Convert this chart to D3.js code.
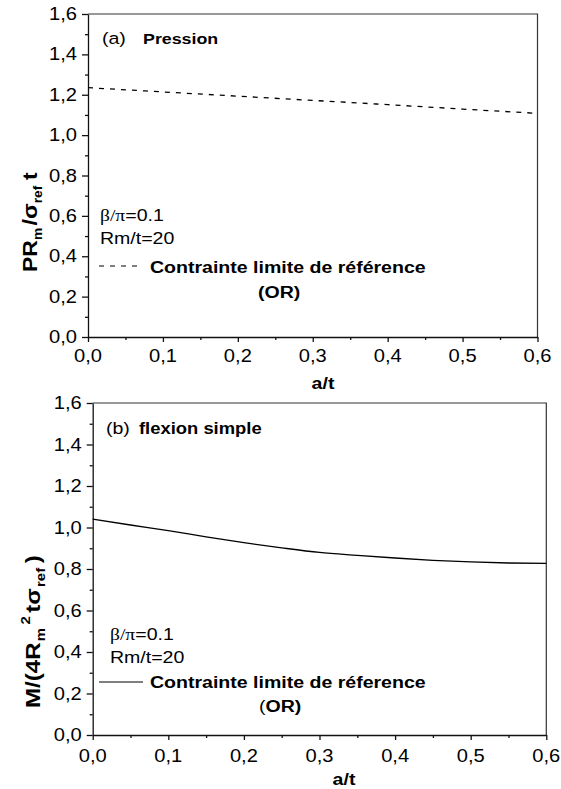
<!DOCTYPE html>
<html>
<head>
<meta charset="utf-8">
<script src="https://cdn.jsdelivr.net/npm/d3@7"></script>
<style>
  body { margin: 0; background: #fff; }
  svg text { font-family: "Liberation Sans", Arial, sans-serif; fill: #000; }
</style>
</head>
<body>
<script>
// values
var xMajor = [0, 0.1, 0.2, 0.3, 0.4, 0.5, 0.6],
    xMinor = [0.05, 0.15, 0.25, 0.35, 0.45, 0.55],
    yMajor = [0, 0.2, 0.4, 0.6, 0.8, 1.0, 1.2, 1.4, 1.6],
    yMinor = [0.1, 0.3, 0.5, 0.7, 0.9, 1.1, 1.3, 1.5];

// (a) pression
var aPress = [0, 0.1, 0.2, 0.3, 0.4, 0.5, 0.6],
    limPress = [1.235, 1.214, 1.193, 1.172, 1.151, 1.129, 1.108];

// (b) flexion simple
var aFlex = [0, 0.05, 0.1, 0.15, 0.2, 0.25, 0.3, 0.35, 0.4, 0.45, 0.5, 0.55, 0.6],
    limFlex = [1.040, 1.012, 0.985, 0.955, 0.927, 0.902, 0.880, 0.866, 0.853, 0.842, 0.834, 0.829, 0.827];

var width = 561,
    height = 789,
    sx = 1.15; // glyphs in the figure are a bit wider than Arial

var svg = d3.select("body").append("svg")
    .attr("width", width)
    .attr("height", height);

var fmt = function(d) { return d.toFixed(1).replace(".", ","); };

function txt(g, x, y, size, weight, anchor) {
  return g.append("text")
      .attr("transform", "translate(" + x + "," + y + ") scale(" + sx + ",1)")
      .attr("font-size", size)
      .attr("font-weight", weight || "normal")
      .attr("text-anchor", anchor || "start");
}

function panel(p) {
  var x = d3.scaleLinear().domain([0, 0.6]).range([p.left, p.right]),
      y = d3.scaleLinear().domain([0, 1.6]).range([p.bottom, p.top]);

  var g = svg.append("g");

  // frame
  g.append("path")
      .attr("d", "M" + p.left + "," + p.top + "H" + p.right + "V" + p.bottom)
      .attr("fill", "none")
      .attr("stroke", "#333")
      .attr("stroke-width", 1.2);

  var xa = g.append("g").attr("transform", "translate(0," + p.bottom + ")");
  xa.call(d3.axisBottom(x).tickValues(xMajor).tickSize(5).tickSizeOuter(0).tickFormat(""));
  xa.append("g").call(d3.axisBottom(x).tickValues(xMinor).tickSize(3).tickSizeOuter(0).tickFormat(""))
      .select(".domain").remove();

  var ya = g.append("g").attr("transform", "translate(" + p.left + ",0)");
  ya.call(d3.axisLeft(y).tickValues(yMajor).tickSize(6).tickSizeOuter(0).tickFormat(""));
  ya.append("g").call(d3.axisLeft(y).tickValues(yMinor).tickSize(3).tickSizeOuter(0).tickFormat(""))
      .select(".domain").remove();

  g.selectAll(".domain, .tick line").attr("stroke", "#111").attr("stroke-width", 1.3);

  xMajor.forEach(function(d) {
    txt(g, x(d), p.bottom + p.xLabDy, 17.5, "normal", "middle").text(fmt(d));
  });
  yMajor.forEach(function(d) {
    txt(g, p.left - 11, y(d) + 6, 17.5, "normal", "end").text(fmt(d));
  });

  // x title
  txt(g, p.xTitleX, p.xTitleY, 17, "bold", "middle").text("a/t");

  // curve
  var line = d3.line()
      .x(function(d) { return x(d[0]); })
      .y(function(d) { return y(d[1]); })
      .curve(d3.curveMonotoneX);

  g.append("path")
      .datum(d3.zip(p.xs, p.ys))
      .attr("d", line)
      .attr("fill", "none")
      .attr("stroke", "#000")
      .attr("stroke-width", 1.3)
      .attr("stroke-dasharray", p.dash);

  return g;
}

// ---------- (a) ----------
var ga = panel({
  left: 88, right: 537.5, top: 14, bottom: 337,
  xs: aPress, ys: limPress, dash: "5,6",
  xLabDy: 25, xTitleX: 323, xTitleY: 389
});

txt(ga, 102, 44, 17).text("(a)");
txt(ga, 143, 44, 15.5, "bold").text("Pression");

var ba = txt(ga, 100, 221, 17);
ba.append("tspan").attr("font-family", "'Liberation Serif', serif").text("β/π");
ba.append("tspan").text("=0.1");
txt(ga, 100, 244, 17).text("Rm/t=20");

ga.append("line")
    .attr("x1", 99).attr("x2", 138).attr("y1", 266).attr("y2", 266)
    .attr("stroke", "#000").attr("stroke-width", 1.2)
    .attr("stroke-dasharray", "5,6");
txt(ga, 150, 272.5, 17, "bold").text("Contrainte limite de référence");
txt(ga, 258, 297.5, 17, "bold").text("(OR)");

var ta = ga.append("text")
    .attr("transform", "translate(37,272) rotate(-90) scale(" + sx + ",1)")
    .attr("font-size", 20)
    .attr("font-weight", "bold");
ta.append("tspan").text("PR");
ta.append("tspan").attr("font-size", 12).attr("dy", 5).text("m");
ta.append("tspan").attr("dy", -5).attr("dx", 2).text("/");
ta.append("tspan").text("σ");
ta.append("tspan").attr("font-size", 12).attr("dy", 5).text("ref");
ta.append("tspan").attr("dy", -5).attr("dx", 5).text("t");

// ---------- (b) ----------
var gb = panel({
  left: 92.7, right: 546.3, top: 403, bottom: 735,
  xs: aFlex, ys: limFlex, dash: null,
  xLabDy: 27, xTitleX: 344, xTitleY: 785
});

txt(gb, 106, 434, 17).text("(b)");
txt(gb, 139, 434, 16, "bold").text("flexion simple");

var bb = txt(gb, 110, 640, 17);
bb.append("tspan").attr("font-family", "'Liberation Serif', serif").text("β/π");
bb.append("tspan").text("=0.1");
txt(gb, 110, 663, 17).text("Rm/t=20");

gb.append("line")
    .attr("x1", 99).attr("x2", 143).attr("y1", 682).attr("y2", 682)
    .attr("stroke", "#000").attr("stroke-width", 1.2);
txt(gb, 150, 688, 17, "bold").text("Contrainte limite de réference");
var orb = txt(gb, 259, 712, 17, "bold");
orb.append("tspan").attr("font-weight", "normal").text("(");
orb.append("tspan").text("OR)");

var tb = gb.append("text")
    .attr("transform", "translate(40,708) rotate(-90) scale(" + sx + ",1)")
    .attr("font-size", 21)
    .attr("font-weight", "bold");
tb.append("tspan").text("M/(4R");
tb.append("tspan").attr("font-size", 13).attr("dy", 5).attr("dx", 1).text("m");
tb.append("tspan").attr("font-size", 13).attr("dy", -15).attr("dx", 3).text("2");
tb.append("tspan").attr("dy", 10).attr("dx", 3).text("tσ");
tb.append("tspan").attr("font-size", 13).attr("dy", 5).attr("dx", 1).text("ref");
tb.append("tspan").attr("dy", -5).attr("dx", 4).text(")");
</script>
</body>
</html>
